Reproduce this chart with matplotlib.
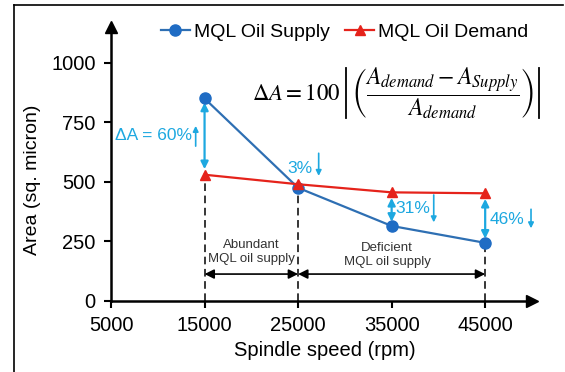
import matplotlib
matplotlib.use("Agg")
import matplotlib.pyplot as plt
from matplotlib.lines import Line2D

plt.rcParams["font.family"] = ["Liberation Sans", "DejaVu Sans"]
plt.rcParams["mathtext.fontset"] = "stix"

# data
speed = [15000, 25000, 35000, 45000]
supply = [850, 475, 315, 244]
demand = [530, 490, 456, 452]
pct_labels = ["\u0394A = 60%", "3%", "31%", "46%"]
x_ticks = [5000, 15000, 25000, 35000, 45000]
y_ticks = [0, 250, 500, 750, 1000]

BLUE_LINE = "#2E6FB3"
BLUE_MARK = "#1F6CC4"
RED = "#E5231B"
CYAN = "#1DA8E0"

fig = plt.figure(figsize=(5.65, 3.72), dpi=100)
ax = fig.add_axes([0.1965, 0.1909, 0.745, 0.7365])

ax.plot(speed, supply, color=BLUE_LINE, lw=1.6, marker="o", ms=8,
        mfc=BLUE_MARK, mec=BLUE_MARK, label="MQL Oil Supply", zorder=4)
ax.plot(speed, demand, color=RED, lw=1.6, marker="^", ms=7,
        mfc=RED, mec=RED, label="MQL Oil Demand", zorder=4)

ax.set_xlim(5000, 50000)
ax.set_ylim(0, 1150)
ax.set_xticks(x_ticks)
ax.set_yticks(y_ticks)
ax.tick_params(labelsize=14.5, length=5, width=1.5, pad=6)

for side in ("top", "right"):
    ax.spines[side].set_visible(False)
for side in ("left", "bottom"):
    ax.spines[side].set_linewidth(1.8)
# arrow heads on the axes
ax.plot(1, 0, ">", color="black", ms=9, transform=ax.transAxes, clip_on=False)
ax.plot(0, 1, "^", color="black", ms=9, transform=ax.transAxes, clip_on=False)

# dashed guide lines
for i in (0, 1, 3):
    ax.plot([speed[i], speed[i]], [0, min(supply[i], demand[i])],
            color="black", lw=1.1, ls=(0, (5, 3)), zorder=2)

# region arrows
arr_y = 113
kw = dict(arrowstyle="<|-|>", color="black", lw=1.2, mutation_scale=14,
          shrinkA=0, shrinkB=0)
ax.annotate("", xy=(speed[0], arr_y), xytext=(speed[1], arr_y), arrowprops=kw)
ax.annotate("", xy=(speed[1], arr_y), xytext=(speed[3], arr_y), arrowprops=kw)
ax.text((speed[0] + speed[1]) / 2, 207, "Abundant\nMQL oil supply",
        ha="center", va="center", fontsize=9.5, color="#333333", linespacing=1.2)
ax.text(34500, 192, "Deficient\nMQL oil supply",
        ha="center", va="center", fontsize=9.5, color="#333333", linespacing=1.2)

# cyan difference arrows
ckw = dict(arrowstyle="<|-|>", color=CYAN, lw=1.6, mutation_scale=11,
           shrinkA=4, shrinkB=3)
for i in (0, 2, 3):
    ax.annotate("", xy=(speed[i], supply[i]), xytext=(speed[i], demand[i]),
                arrowprops=ckw, zorder=3)

skw = dict(arrowstyle="-|>", color=CYAN, lw=1.2, mutation_scale=8,
           shrinkA=0, shrinkB=0)
ax.text(13700, 694, pct_labels[0], ha="right", va="center", fontsize=12.5, color=CYAN)
ax.annotate("", xy=(14050, 735), xytext=(14050, 650), arrowprops=skw)
ax.text(23900, 556, pct_labels[1], ha="left", va="center", fontsize=12.5, color=CYAN)
ax.annotate("", xy=(27200, 525), xytext=(27200, 620), arrowprops=skw)
ax.text(35400, 389, pct_labels[2], ha="left", va="center", fontsize=12.5, color=CYAN)
ax.annotate("", xy=(39500, 330), xytext=(39500, 445), arrowprops=skw)
ax.text(45500, 343, pct_labels[3], ha="left", va="center", fontsize=12.5, color=CYAN)
ax.annotate("", xy=(49900, 305), xytext=(49900, 385), arrowprops=skw)

# formula, with thin absolute-value bars drawn as lines
ax.text(29500, 873, r"$\Delta A = 100$", ha="right", va="center", fontsize=16.5)
ax.text(30650, 873,
        r"$\left(\dfrac{A_{demand}-A_{Supply}}{A_{demand}}\right)$",
        ha="left", va="center", fontsize=17)
for bx in (30120, 50750):
    ax.plot([bx, bx], [770, 980], color="black", lw=1.3, clip_on=False)

fig.text(0.058, 0.516, "Area (sq. micron)", rotation=90, ha="center",
         va="center", fontsize=14)
fig.text(0.575, 0.057, "Spindle speed (rpm)", ha="center", va="center",
         fontsize=14.5)

fig.legend(loc="center", bbox_to_anchor=(0.61, 0.914), ncol=2, frameon=False,
           fontsize=14, handlelength=1.5, handletextpad=0.2, columnspacing=0.8)

# partial frame around the figure (top and left edges)
fig.add_artist(Line2D([14 / 565, 563 / 565], [1 - 5 / 372, 1 - 5 / 372],
                      color="black", lw=1.2, transform=fig.transFigure))
fig.add_artist(Line2D([14 / 565, 14 / 565], [0, 1 - 5 / 372],
                      color="black", lw=1.2, transform=fig.transFigure))

fig.savefig("out.png", dpi=100)
